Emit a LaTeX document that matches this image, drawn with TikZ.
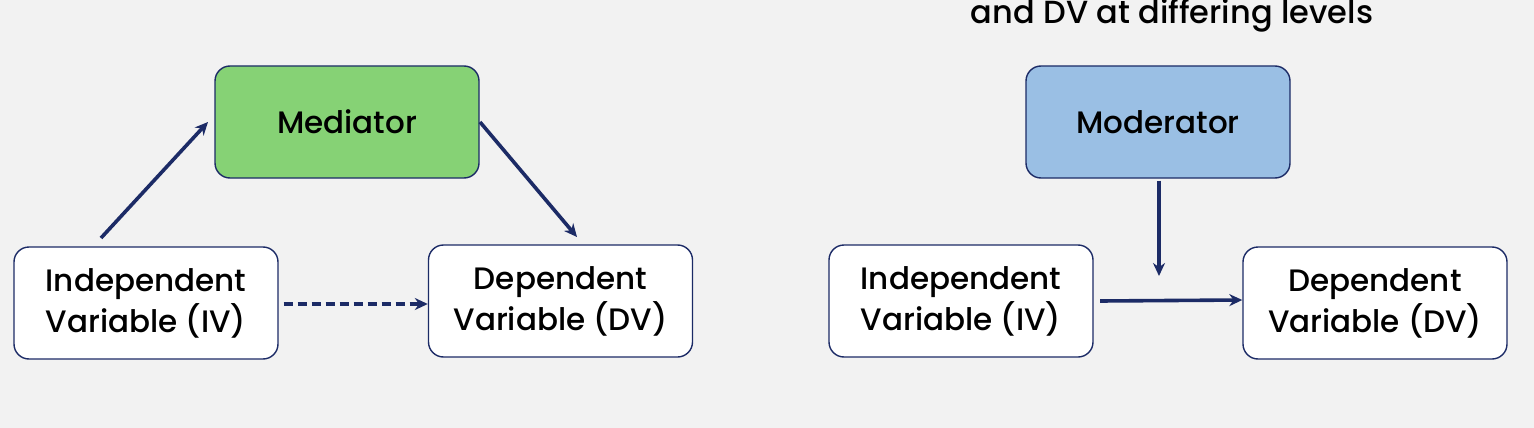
\documentclass[tikz,border=0pt]{standalone}
\usepackage{fontspec}
\setmainfont{Poppins}[UprightFont=* Medium]
\usetikzlibrary{arrows.meta}
\definecolor{navy}{HTML}{1C2B66}
\definecolor{bg}{HTML}{F2F2F2}
\definecolor{medgreen}{HTML}{86D275}
\definecolor{modblue}{HTML}{9ABFE4}
\tikzset{
  box/.style={draw=navy, line width=1.4pt, rounded corners=15pt, minimum width=264pt, minimum height=112pt, inner sep=0pt, align=center, font=\fontsize{31}{41}\selectfont, text=black},
  conn/.style={draw=navy, line width=3.6pt, -{Stealth[length=13pt,width=12pt]}},
}
\begin{document}
\begin{tikzpicture}[x=1pt,y=-1pt]
\fill[bg] (0,0) rectangle (1534,428);
\useasboundingbox (0,0) rectangle (1534,428);
% left
\node[box, fill=medgreen] (med) at (347,122) {Mediator};
\node[box, fill=white] (iv1) at (146,303) {Independent\\Variable (IV)};
\node[box, fill=white] (dv1) at (560.5,301) {Dependent\\Variable (DV)};
\coordinate (a1s) at (101,238);
\coordinate (a1e) at (208,122);
\coordinate (a2s) at (480,122);
\coordinate (a2e) at (577,237);
\draw[conn] (a1s) -- (a1e);
\draw[conn] (a2s) -- (a2e);
\draw[conn, dashed, dash pattern=on 9pt off 5pt] (iv1.east |- 0,304) ++(5,0) -- (dv1.west |- 0,304);
% right
\node[font=\fontsize{32}{40}\selectfont, anchor=base] (title) at (1172,24) {and DV at differing levels};
\node[box, fill=modblue] (mod) at (1158,122) {Moderator};
\node[box, fill=white] (iv2) at (961,301) {Independent\\Variable (IV)};
\node[box, fill=white] (dv2) at (1375,303) {Dependent\\Variable (DV)};
\coordinate (m1) at (1159,276);
\coordinate (m0) at (1100,301);
\draw[conn] (mod.south -| m1) ++(0,2) -- (m1);
\draw[conn] (m0) -- (dv2.west |- 0,300);
\end{tikzpicture}
\end{document}
